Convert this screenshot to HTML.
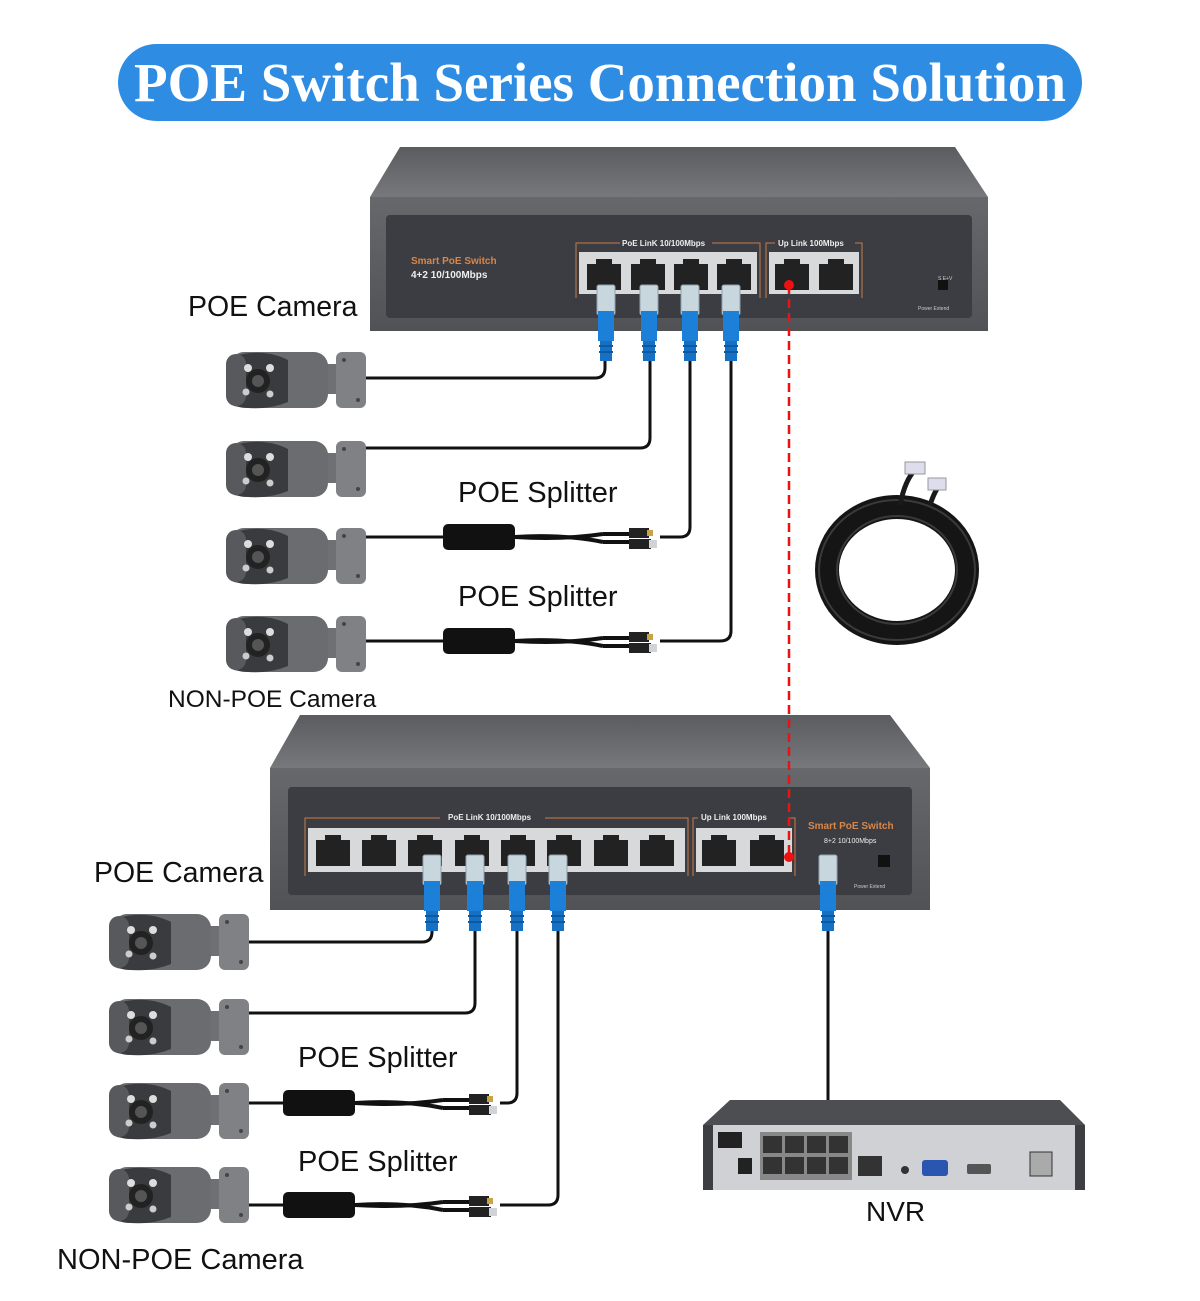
<!DOCTYPE html>
<html><head><meta charset="utf-8"><style>
html,body{margin:0;padding:0;background:#fff;}
svg{display:block}
text{font-family:"Liberation Sans",sans-serif;}
</style></head><body>
<svg width="1200" height="1301" viewBox="0 0 1200 1301" xmlns="http://www.w3.org/2000/svg">
<defs>
 <linearGradient id="top" x1="0" y1="0" x2="0" y2="1"><stop offset="0" stop-color="#5a5c60"/><stop offset="1" stop-color="#76787c"/></linearGradient>
 <linearGradient id="front" x1="0" y1="0" x2="0" y2="1"><stop offset="0" stop-color="#66686c"/><stop offset="1" stop-color="#505256"/></linearGradient>
 <g id="cam">
  <rect x="96" y="14" width="26" height="30" fill="#6f7074"/>
  <rect x="112" y="2" width="30" height="56" rx="6" fill="#808184"/>
  <circle cx="120" cy="10" r="2" fill="#444"/><circle cx="134" cy="50" r="2" fill="#444"/>
  <rect x="6" y="2" width="98" height="56" rx="14" fill="#6b6c70"/>
  <path d="M10 6 Q40 -2 64 10 L64 52 Q40 62 10 56 Z" fill="#3a3b3e"/>
  <rect x="2" y="4" width="20" height="52" rx="10" fill="#58595d"/>
  <circle cx="34" cy="31" r="12" fill="#222"/><circle cx="34" cy="31" r="6" fill="#555"/>
  <circle cx="24" cy="18" r="4" fill="#ddd"/><circle cx="46" cy="18" r="4" fill="#ddd"/>
  <circle cx="22" cy="42" r="3.5" fill="#ccc"/><circle cx="46" cy="44" r="3.5" fill="#ccc"/>
 </g>
 <g id="port">
  <rect x="0" y="0" width="44" height="40" fill="#d8d9db"/>
  <path d="M5 10 H14 V5 H30 V10 H39 V36 H5 Z" fill="#222"/>
 </g>
 <g id="plug">
  <rect x="-9" y="0" width="18" height="30" rx="2" fill="#c8d6de" stroke="#8fa3ad"/>
  <rect x="-8" y="26" width="16" height="30" fill="#1c7fd8"/>
  <rect x="-6" y="56" width="12" height="20" fill="#1670c4"/>
  <rect x="-7" y="60" width="14" height="2" fill="#0d5aa0"/><rect x="-7" y="66" width="14" height="2" fill="#0d5aa0"/>
 </g>
 <g id="split">
  <rect x="0" y="0" width="72" height="26" rx="5" fill="#111"/>
  <path d="M72 13 Q120 16 160 10" stroke="#111" stroke-width="4" fill="none"/>
  <path d="M72 13 Q120 10 160 18" stroke="#111" stroke-width="4" fill="none"/>
  <rect x="186" y="4" width="20" height="10" fill="#222"/><rect x="204" y="6" width="6" height="6" fill="#c9a24a"/>
  <rect x="186" y="15" width="22" height="10" fill="#222"/><rect x="206" y="16" width="8" height="8" fill="#d0d4d8"/>
  <path d="M160 10 H186 M160 18 H186" stroke="#111" stroke-width="4"/>
 </g>
</defs>

<rect x="118" y="44" width="964" height="77" rx="38.5" fill="#2e8de3"/>
<text x="600" y="101" text-anchor="middle" fill="#fff" font-weight="bold" font-size="55" style="font-family:'Liberation Serif',serif">POE Switch Series Connection Solution</text>

<polygon points="400,147 955,147 988,197 370,197" fill="url(#top)"/>
<rect x="370" y="197" width="618" height="134" fill="url(#front)"/>
<rect x="386" y="215" width="586" height="103" rx="4" fill="#3c3d42"/>
<text x="411" y="264" fill="#d8874a" font-size="10" font-weight="bold">Smart PoE Switch</text>
<text x="411" y="278" fill="#eee" font-size="10" font-weight="bold">4+2 10/100Mbps</text>
<path d="M576 298 V243 H620 M712 243 H760 V298" stroke="#c87a45" fill="none"/>
<text x="622" y="246" fill="#eee" font-size="8" font-weight="bold">PoE LinK   10/100Mbps</text>
<path d="M766 298 V243 H775 M855 243 H862 V298" stroke="#c87a45" fill="none"/>
<text x="778" y="246" fill="#eee" font-size="8" font-weight="bold">Up Link   100Mbps</text>
<rect x="579" y="252" width="178" height="42" fill="#d8d9db"/>
<use href="#port" x="582" y="254"/>
<use href="#port" x="626" y="254"/><use href="#port" x="669" y="254"/><use href="#port" x="712" y="254"/>
<rect x="769" y="252" width="90" height="42" fill="#d8d9db"/>
<use href="#port" x="770" y="254"/><use href="#port" x="814" y="254"/>
<rect x="938" y="280" width="10" height="10" fill="#111"/>
<text x="938" y="280" fill="#ccc" font-size="5">S  E+V</text>
<text x="918" y="310" fill="#ccc" font-size="5">Power    Extend</text>
<circle cx="789" cy="285" r="5" fill="#e11"/>

<g stroke="#111" stroke-width="3" fill="none">
 <path d="M365 378 H595 Q605 378 605 368 V355"/>
 <path d="M365 448 H640 Q650 448 650 438 V355"/>
 <path d="M365 537 H443 M660 537 H680 Q690 537 690 527 V355"/>
 <path d="M365 641 H443 M660 641 H720 Q731 641 731 631 V355"/>
 <path d="M248 942 H422 Q432 942 432 932 V925"/>
 <path d="M248 1013 H465 Q475 1013 475 1003 V925"/>
 <path d="M248 1103 H283 M500 1103 H507 Q517 1103 517 1093 V925"/>
 <path d="M248 1205 H283 M500 1205 H548 Q558 1205 558 1195 V925"/>
 <path d="M828 925 V1100"/>
</g>
<use href="#plug" x="606" y="285"/><use href="#plug" x="649" y="285"/><use href="#plug" x="690" y="285"/><use href="#plug" x="731" y="285"/>

<use href="#cam" x="224" y="350"/><use href="#cam" x="224" y="439"/><use href="#cam" x="224" y="526"/><use href="#cam" x="224" y="614"/>
<use href="#split" x="443" y="524"/><use href="#split" x="443" y="628"/>

<g fill="none">
 <ellipse cx="897" cy="570" rx="70" ry="63" stroke-width="24" stroke="#151515"/>
 <ellipse cx="897" cy="570" rx="60" ry="54" stroke-width="2" stroke="#3a3a3a"/>
 <ellipse cx="897" cy="570" rx="78" ry="70" stroke-width="2" stroke="#3a3a3a"/>
 <path d="M900 505 Q905 480 915 470 M930 505 Q935 490 940 485" stroke-width="5" stroke="#1a1a1a"/>
</g>
<rect x="905" y="462" width="20" height="12" fill="#dde" stroke="#999"/>
<rect x="928" y="478" width="18" height="12" fill="#dde" stroke="#999"/>

<polygon points="300,715 890,715 930,768 270,768" fill="url(#top)"/>
<rect x="270" y="768" width="660" height="142" fill="url(#front)"/>
<rect x="288" y="787" width="624" height="108" rx="4" fill="#3c3d42"/>
<path d="M305 876 V818 H440 M545 818 H688 V876" stroke="#c87a45" fill="none"/>
<text x="448" y="820" fill="#eee" font-size="8" font-weight="bold">PoE LinK      10/100Mbps</text>
<path d="M693 876 V818 H698 M790 818 H795 V876" stroke="#c87a45" fill="none"/>
<text x="701" y="820" fill="#eee" font-size="8" font-weight="bold">Up Link         100Mbps</text>
<rect x="308" y="828" width="377" height="44" fill="#d8d9db"/>
<use href="#port" x="311" y="830"/><use href="#port" x="357" y="830"/><use href="#port" x="403" y="830"/><use href="#port" x="450" y="830"/>
<use href="#port" x="496" y="830"/><use href="#port" x="542" y="830"/><use href="#port" x="589" y="830"/><use href="#port" x="635" y="830"/>
<rect x="696" y="828" width="96" height="44" fill="#d8d9db"/>
<use href="#port" x="697" y="830"/><use href="#port" x="745" y="830"/>
<text x="808" y="829" fill="#d8874a" font-size="10" font-weight="bold">Smart PoE Switch</text>
<text x="824" y="843" fill="#eee" font-size="7">8+2 10/100Mbps</text>
<rect x="878" y="855" width="12" height="12" fill="#111"/>
<text x="854" y="888" fill="#ccc" font-size="5">Power      Extend</text>
<circle cx="789" cy="857" r="5" fill="#e11"/>
<use href="#plug" x="432" y="855"/><use href="#plug" x="475" y="855"/><use href="#plug" x="517" y="855"/><use href="#plug" x="558" y="855"/><use href="#plug" x="828" y="855"/>

<line x1="789" y1="285" x2="789" y2="857" stroke="#e11" stroke-width="2.5" stroke-dasharray="9,5"/>

<use href="#cam" x="107" y="912"/><use href="#cam" x="107" y="997"/><use href="#cam" x="107" y="1081"/><use href="#cam" x="107" y="1165"/>
<use href="#split" x="283" y="1090"/><use href="#split" x="283" y="1192"/>

<polygon points="730,1100 1060,1100 1085,1125 703,1125" fill="#4c4e52"/>
<rect x="703" y="1125" width="382" height="65" fill="#cfd1d4"/>
<rect x="703" y="1125" width="10" height="65" fill="#3c3e42"/><rect x="1075" y="1125" width="10" height="65" fill="#3c3e42"/>
<rect x="718" y="1132" width="24" height="16" fill="#222"/>
<rect x="738" y="1158" width="14" height="16" fill="#222"/>
<rect x="760" y="1132" width="92" height="48" fill="#888"/>
<g fill="#333"><rect x="763" y="1136" width="19" height="17"/><rect x="785" y="1136" width="19" height="17"/><rect x="807" y="1136" width="19" height="17"/><rect x="829" y="1136" width="19" height="17"/>
<rect x="763" y="1157" width="19" height="17"/><rect x="785" y="1157" width="19" height="17"/><rect x="807" y="1157" width="19" height="17"/><rect x="829" y="1157" width="19" height="17"/>
<rect x="858" y="1156" width="24" height="20"/><circle cx="905" cy="1170" r="4"/></g>
<rect x="922" y="1160" width="26" height="16" rx="3" fill="#2a55b0"/>
<rect x="967" y="1164" width="24" height="10" rx="2" fill="#555"/>
<rect x="1030" y="1152" width="22" height="24" fill="#aaa" stroke="#333"/>

<g fill="#111">
<text x="188" y="316" font-size="28.5">POE Camera</text>
<text x="458" y="502" font-size="29">POE Splitter</text>
<text x="458" y="606" font-size="29">POE Splitter</text>
<text x="168" y="707" font-size="24.5">NON-POE Camera</text>
<text x="94" y="882" font-size="28.5">POE Camera</text>
<text x="298" y="1067" font-size="29">POE Splitter</text>
<text x="298" y="1171" font-size="29">POE Splitter</text>
<text x="57" y="1269" font-size="29">NON-POE Camera</text>
<text x="866" y="1221" font-size="28">NVR</text>
</g>
</svg>
</body></html>
